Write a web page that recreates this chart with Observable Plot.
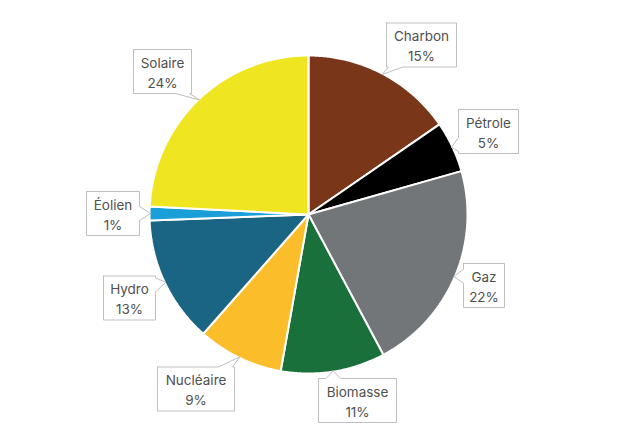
<!DOCTYPE html>
<html><head><meta charset="utf-8">
<script src="https://cdn.jsdelivr.net/npm/d3@7"></script>
<script src="https://cdn.jsdelivr.net/npm/@observablehq/plot@0.6"></script>
<style>body{margin:0;background:#fff}</style>
</head><body><div id="chart"></div>
<script>
// Data
const categories = ["Charbon", "Pétrole", "Gaz", "Biomasse", "Nucléaire", "Hydro", "Éolien", "Solaire"];
const shares = [15.4, 5.2, 21.6, 10.6, 8.7, 12.9, 1.4, 24.2];
const colors = ["#7a3618", "#000000", "#737678", "#1a703a", "#fbbd2a", "#1b6584", "#1a9fd8", "#efe621"];

// Layout (pixels)
const W = 624, H = 438;
const cx = 308, cy = 214, R = 159;
const labelCenters = [[421, 44.5], [488, 131], [483.5, 285], [357, 400], [195.5, 388.5], [129, 297.5], [112.5, 213], [162, 71]];
const boxWidths = [70, 60, 41, 78, 77, 52, 53, 58];
const boxH = 44;

const toX = px => px - cx;
const toY = py => cy - py;

const total = d3.sum(shares);
let cum = 0;
const slices = [];
const mids = [];
categories.forEach((c, i) => {
  const a0 = cum / total * 2 * Math.PI;
  cum += shares[i];
  const a1 = cum / total * 2 * Math.PI;
  mids.push((a0 + a1) / 2);
  slices.push({key: c, x: 0, y: 0});
  const n = Math.max(2, Math.ceil((a1 - a0) / (Math.PI / 360)));
  for (let k = 0; k <= n; k++) {
    const a = a0 + (a1 - a0) * k / n;
    slices.push({key: c, x: R * Math.sin(a), y: R * Math.cos(a)});
  }
  slices.push({key: c, x: 0, y: 0});
});

// callout shapes
const callouts = [];
const labels = [];
categories.forEach((c, i) => {
  const [bx, by] = labelCenters[i];
  const w = boxWidths[i];
  const L = bx - w / 2, Rr = bx + w / 2, T = by - boxH / 2, B = by + boxH / 2;
  const tx = cx + (R - 1) * Math.sin(mids[i]);
  const ty = cy - (R - 1) * Math.cos(mids[i]);
  const dx = tx - bx, dy = ty - by;
  let edge;
  if (Math.abs(dx) / (w / 2) > Math.abs(dy) / (boxH / 2)) edge = dx > 0 ? 1 : 3;
  else edge = dy > 0 ? 2 : 0;
  const corners = [[L, T], [Rr, T], [Rr, B], [L, B]];
  const pts = [];
  for (let k = 0; k < 4; k++) {
    const p0 = corners[k], p1 = corners[(k + 1) % 4];
    pts.push(p0);
    if (k === edge) {
      const horiz = p0[1] === p1[1];
      const lo = Math.min(horiz ? p0[0] : p0[1], horiz ? p1[0] : p1[1]);
      const hi = Math.max(horiz ? p0[0] : p0[1], horiz ? p1[0] : p1[1]);
      let c0 = horiz ? tx : ty;
      c0 = Math.max(lo + 9, Math.min(hi - 9, c0));
      const dir = horiz ? Math.sign(p1[0] - p0[0]) : Math.sign(p1[1] - p0[1]);
      const b1 = c0 - dir * 7, b2 = c0 + dir * 7;
      if (horiz) { pts.push([b1, p0[1]], [tx, ty], [b2, p0[1]]); }
      else { pts.push([p0[0], b1], [tx, ty], [p0[0], b2]); }
    }
  }
  pts.push(corners[0]);
  pts.forEach(p => callouts.push({key: c, x: toX(p[0]), y: toY(p[1])}));
  labels.push({key: c, x: toX(bx), y: toY(by), text: c + "\n" + Math.round(shares[i] / total * 100) + "%"});
});

const chart = Plot.plot({
  width: W, height: H,
  margin: 0,
  x: {domain: [toX(0), toX(W)], range: [0, W], axis: null},
  y: {domain: [toY(H), toY(0)], range: [H, 0], axis: null},
  color: {domain: categories, range: colors},
  style: {background: "#fff", fontFamily: "Inter, 'Noto Sans', sans-serif"},
  marks: [
    Plot.line(slices, {x: "x", y: "y", z: "key", fill: "key", stroke: "#fff", strokeWidth: 2, strokeLinejoin: "miter", curve: "linear"}),
    Plot.line(callouts, {x: "x", y: "y", z: "key", fill: "#fff", stroke: "#bfbfbf", strokeWidth: 1, strokeLinejoin: "miter", curve: "linear"}),
    Plot.text(labels, {x: "x", y: "y", text: "text", fontSize: 13.5, lineHeight: 1.45, fill: "#505050", fontFamily: "Inter, 'Noto Sans', sans-serif"})
  ]
});
document.getElementById("chart").appendChild(chart);
</script>
</body></html>
